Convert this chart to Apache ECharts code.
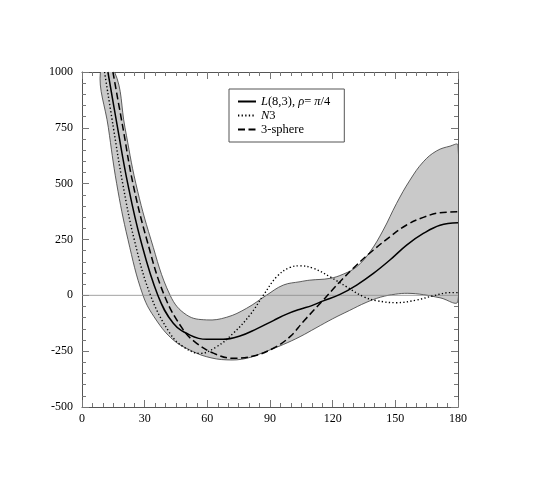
<!DOCTYPE html>
<html><head><meta charset="utf-8">
<script src="https://cdn.jsdelivr.net/npm/echarts@6/dist/echarts.min.js"></script>
<style>html,body{margin:0;padding:0;background:#fff}#c{width:540px;height:480px}</style>
</head><body><div id="c"></div>
<script>
// ---- data ----
const xTicks = [0, 30, 60, 90, 120, 150, 180];
const yTicks = [-500, -250, 0, 250, 500, 750, 1000];

// L(8,3), rho = pi/4  (mean, solid)
const solidX = [12.4, 17.0, 21.9, 28.0, 36.3, 43.7, 51.7, 59.7, 67.6, 75.6, 83.6, 91.6, 98, 104.4, 110, 115.5, 123.5, 131.5, 139.5, 147.4, 155.4, 163.4, 171.4, 180];
const solidY = [1000, 752, 500, 250, 0, -125, -178, -197, -197, -182, -150, -113, -84, -62, -46, -25, 4, 46, 98, 158, 225, 277, 314, 325];

// N3 (dotted)
const dotX = [10.8, 15.0, 19.5, 25.0, 32.8, 42.1, 48.5, 56.5, 64.5, 72.4, 80.4, 86.8, 93.2, 99.6, 104.4, 110.8, 118.7, 126.7, 134.7, 141.1, 150.6, 160.2, 168.2, 176.2, 180];
const dotY = [1000, 752, 500, 250, 0, -170, -230, -260, -230, -170, -88, 0, 83, 125, 132, 121, 83, 38, -6, -24, -33, -21, -2, 12, 12];

// 3-sphere (dashed)
const dashX = [14.8, 19.6, 24.4, 31.0, 39.4, 48.5, 54.9, 62.9, 72.4, 82, 91.6, 99.6, 105.9, 115.5, 123.5, 131.5, 139.5, 147.4, 155.4, 163.4, 171.4, 180];
const dashY = [1000, 750, 500, 250, 0, -155, -215, -259, -282, -272, -237, -185, -118, -21, 61, 136, 203, 262, 315, 349, 370, 374];

// band (upper / lower edge)
const upperX = [15.6, 20.6, 25.8, 33.0, 42.2, 50.1, 59.7, 69.3, 78.8, 88.4, 96.4, 104.4, 109.1, 118.7, 125.1, 131.5, 137.9, 144.2, 150.6, 157, 163.4, 169.8, 176.2, 180];
const upperY = [1000, 750, 500, 250, 0, -88, -110, -98, -58, 1, 46, 61, 68, 76, 95, 128, 195, 292, 412, 516, 598, 647, 668, 672];
const lowerX = [8.8, 12.6, 16.6, 22.0, 29.2, 35.5, 43.7, 51.7, 59.7, 69.3, 78.8, 88.4, 96.4, 104.4, 112, 120, 128, 136, 143, 150, 156, 163.4, 171.4, 180];
const lowerY = [1000, 752, 500, 250, 0, -110, -200, -245, -275, -289, -282, -250, -220, -185, -146, -105, -68, -32, -8, 5, 9, 3, -11, -25];

const zeroX = [0, 180];
const zeroY = [0, 0];

const legendNames = ['L(8,3)', 'N3', '3-sphere'];

// ---- chart ----
const FONT = 'Liberation Serif';
const pairs = (xs, ys) => xs.map((x, i) => [x, ys[i]]);

const chart = echarts.init(document.getElementById('c'), null, {renderer: 'canvas'});

const axisCommon = {
  type: 'value',
  axisLine: {show: true, onZero: false, lineStyle: {color: '#555', width: 1}},
  axisTick: {show: true, inside: true, length: 7, lineStyle: {color: '#777', width: 1}},
  minorTick: {show: true, length: 4, lineStyle: {color: '#777', width: 1}},
  splitLine: {show: false},
  minorSplitLine: {show: false}
};
const labelCommon = {color: '#000', fontFamily: FONT, fontSize: 12};

const option = {
  backgroundColor: '#fff',
  animation: false,
  grid: {left: 82, right: 82, top: 72, bottom: 73, containLabel: false},
  xAxis: [
    Object.assign({}, axisCommon, {position: 'bottom', min: xTicks[0], max: xTicks[xTicks.length - 1], interval: 30,
      minorTick: Object.assign({}, axisCommon.minorTick, {splitNumber: 6}),
      axisLabel: Object.assign({}, labelCommon, {margin: 6, showMinLabel: true, showMaxLabel: true})}),
    Object.assign({}, axisCommon, {position: 'top', min: xTicks[0], max: xTicks[xTicks.length - 1], interval: 30,
      minorTick: Object.assign({}, axisCommon.minorTick, {splitNumber: 6}),
      axisLabel: {show: false}})
  ],
  yAxis: [
    Object.assign({}, axisCommon, {position: 'left', min: yTicks[0], max: yTicks[yTicks.length - 1], interval: 250,
      minorTick: Object.assign({}, axisCommon.minorTick, {splitNumber: 5}),
      axisLabel: Object.assign({}, labelCommon, {margin: 9, formatter: function (v) { return String(v); }})}),
    Object.assign({}, axisCommon, {position: 'right', min: yTicks[0], max: yTicks[yTicks.length - 1], interval: 250,
      minorTick: Object.assign({}, axisCommon.minorTick, {splitNumber: 5}),
      axisLabel: {show: false}})
  ],
  legend: {
    data: legendNames,
    orient: 'vertical',
    left: 229, top: 89,
    padding: [6, 14, 6, 8],
    itemGap: 1,
    itemWidth: 18, itemHeight: 12,
    backgroundColor: '#fff',
    borderColor: '#555', borderWidth: 1, borderRadius: 0,
    itemStyle: {opacity: 0},
    formatter: function (name) {
      if (name === 'L(8,3)') return '{i|L}(8,3), {i|ρ}= {i|π}/4';
      if (name === 'N3') return '{i|N}3';
      return name;
    },
    textStyle: {
      color: '#000', fontFamily: FONT, fontSize: 12.5, lineHeight: 13,
      rich: {i: {fontStyle: 'italic', fontFamily: FONT, fontSize: 12.5, lineHeight: 13, color: '#000'}}
    }
  },
  series: [
    {
      type: 'custom', name: 'band', silent: true, clip: true, z: 1,
      data: [[0, 0]],
      renderItem: function (params, api) {
        const pts = [];
        for (let i = 0; i < upperX.length; i++) pts.push(api.coord([upperX[i], upperY[i]]));
        for (let i = lowerX.length - 1; i >= 0; i--) pts.push(api.coord([lowerX[i], lowerY[i]]));
        return {type: 'polygon', shape: {points: pts, smooth: 0.4},
          style: {fill: '#c9c9c9', stroke: '#3a3a3a', lineWidth: 0.8}};
      }
    },
    {
      type: 'line', name: 'zero', data: pairs(zeroX, zeroY), symbol: 'none', silent: true, z: 2,
      lineStyle: {color: '#8a8a8a', width: 0.8}
    },
    {
      type: 'line', name: 'N3', data: pairs(dotX, dotY), symbol: 'none', smooth: 0.4, z: 3, clip: true,
      itemStyle: {color: '#000'},
      lineStyle: {color: '#000', width: 1.4, type: [1.3, 2.3]}
    },
    {
      type: 'line', name: '3-sphere', data: pairs(dashX, dashY), symbol: 'none', smooth: 0.4, z: 4, clip: true,
      itemStyle: {color: '#000'},
      lineStyle: {color: '#000', width: 1.5, type: [7, 3.5]}
    },
    {
      type: 'line', name: 'L(8,3)', data: pairs(solidX, solidY), symbol: 'none', smooth: 0.4, z: 5, clip: true,
      itemStyle: {color: '#000'},
      lineStyle: {color: '#000', width: 1.5}
    }
  ]
};
chart.setOption(option);
</script>
</body></html>
